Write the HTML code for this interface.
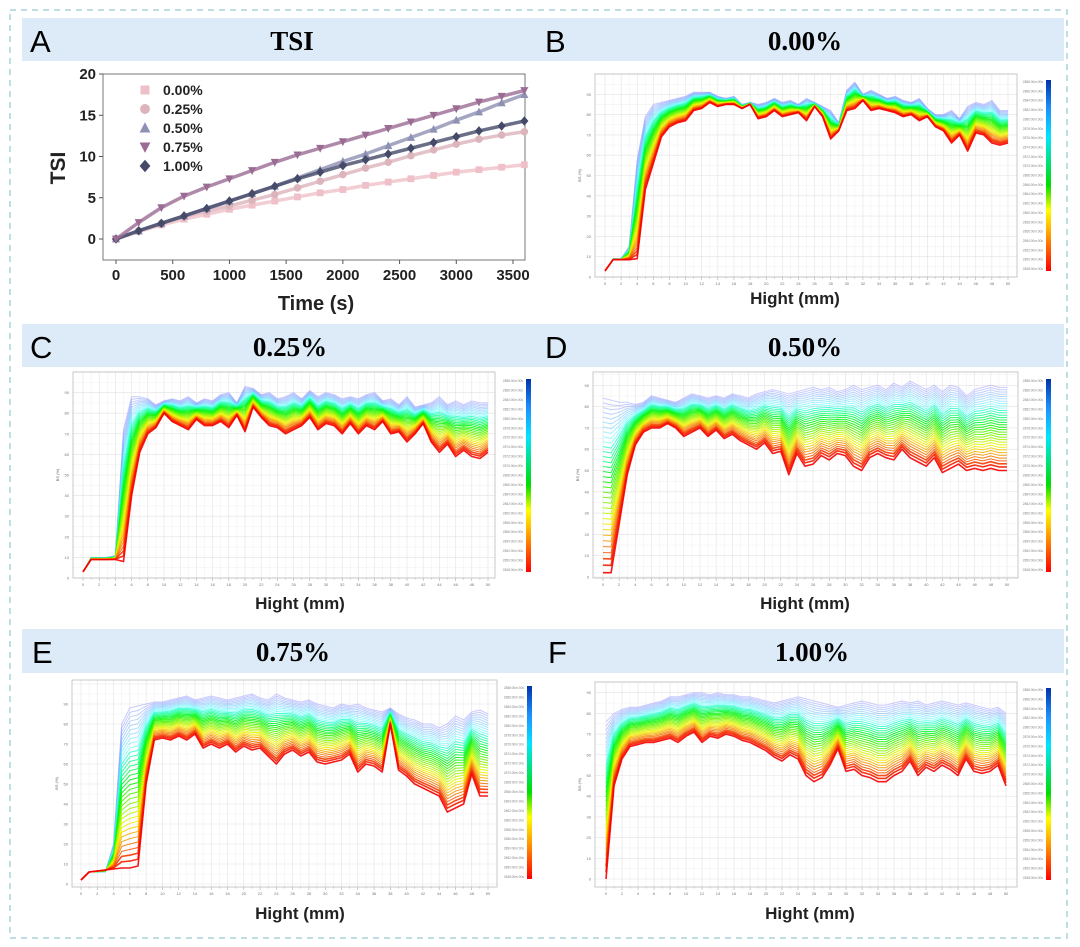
<!DOCTYPE html>
<html><head><meta charset="utf-8"><style>
html,body{margin:0;padding:0;background:#fff;}
svg{display:block;}
text{font-family:"Liberation Sans",sans-serif;}
</style></head><body>
<svg id="fig" width="1080" height="947" viewBox="0 0 1080 947" xmlns="http://www.w3.org/2000/svg">
<rect x="10" y="10" width="1057" height="928" fill="none" stroke="#a9d3dc" stroke-width="1.5" stroke-dasharray="6,5"/>
<g>
<rect x="22" y="18" width="1042" height="43" fill="#dcebf7"/>
<text x="30" y="52" font-size="31">A</text>
<text x="292" y="50" font-size="27" font-weight="bold" text-anchor="middle" style="font-family:'Liberation Serif',serif">TSI</text>
<text x="545" y="52" font-size="31">B</text>
<text x="805" y="50" font-size="27" font-weight="bold" text-anchor="middle" style="font-family:'Liberation Serif',serif">0.00%</text>
</g>
<g>
<rect x="22" y="324" width="1042" height="43" fill="#dcebf7"/>
<text x="30" y="358" font-size="31">C</text>
<text x="290" y="356" font-size="27" font-weight="bold" text-anchor="middle" style="font-family:'Liberation Serif',serif">0.25%</text>
<text x="545" y="358" font-size="31">D</text>
<text x="805" y="356" font-size="27" font-weight="bold" text-anchor="middle" style="font-family:'Liberation Serif',serif">0.50%</text>
</g>
<g>
<rect x="22" y="629" width="1042" height="44" fill="#dcebf7"/>
<text x="32" y="663" font-size="31">E</text>
<text x="293" y="661" font-size="27" font-weight="bold" text-anchor="middle" style="font-family:'Liberation Serif',serif">0.75%</text>
<text x="548" y="663" font-size="31">F</text>
<text x="812" y="661" font-size="27" font-weight="bold" text-anchor="middle" style="font-family:'Liberation Serif',serif">1.00%</text>
</g>
<g id="chartA"></g>
<g id="profiles"></g>
</svg>
<script>
// ---------- Panel A data ----------
const timeS = [0,200,400,600,800,1000,1200,1400,1600,1800,2000,2200,2400,2600,2800,3000,3200,3400,3600];
const tsi000 = [0,0.9,1.7,2.4,3.0,3.6,4.1,4.6,5.1,5.6,6.0,6.5,6.9,7.3,7.7,8.1,8.4,8.7,9.0];
const tsi025 = [0,1,1.9,2.7,3.4,4.0,4.7,5.4,6.2,7.0,7.8,8.6,9.3,10.1,10.8,11.5,12.1,12.6,13.0];
const tsi050 = [0,1,1.9,2.8,3.7,4.6,5.5,6.4,7.4,8.4,9.4,10.3,11.3,12.3,13.3,14.4,15.4,16.5,17.5];
const tsi075 = [0,2,3.8,5.2,6.3,7.3,8.3,9.3,10.2,11.0,11.8,12.6,13.4,14.2,15.0,15.8,16.6,17.3,18.0];
const tsi100 = [0,1,1.9,2.8,3.7,4.6,5.5,6.4,7.3,8.1,8.9,9.6,10.3,11.0,11.7,12.4,13.1,13.7,14.3];
const seriesNames = ["0.00%","0.25%","0.50%","0.75%","1.00%"];
const xTicksA = [0,500,1000,1500,2000,2500,3000,3500];
const yTicksA = [0,5,10,15,20];

// ---------- Profile data (BS %, 1 mm steps) ----------
const redB = [3,8.5,8.5,8.5,9,43,56,69,74,76,77,82,83,86,84,85,85,83,85,78,79,82,79,80,81,77,84,79,68,72,82,83,87,82,83,82,81,79,80,77,79,74,72,66,70,62,71,70,66,65,66];
const blueB = [3,9,9,15,58,79,85,86,87,88,89,91,91,91,89,88,89,85,86,85,86,88,86,87,85,88,86,84,82,76,92,96,90,92,90,88,89,87,86,88,83,80,80,82,78,84,86,85,87,82,82];
const redC = [3,9,9,9,9,8,40,61,70,73,80,76,74,72,77,74,74,76,73,79,71,83,78,74,73,70,72,74,78,72,75,74,70,75,70,74,72,76,70,71,66,70,75,66,61,65,59,62,59,58,61];
const blueC = [3,10,10,10,11,72,88,88,87,84,86,87,86,88,85,87,86,89,90,85,93,92,89,90,87,88,90,87,91,88,90,89,87,88,87,89,90,86,87,84,88,83,84,85,88,84,86,84,86,85,85];
const redD = [2,2,25,48,62,68,70,70,72,70,66,68,70,66,69,65,67,64,62,60,63,58,59,48,58,52,53,57,55,58,57,52,50,56,58,56,55,60,56,54,52,56,49,51,53,50,51,50,51,50,50];
const blueD = [84,83,82,82,81,82,85,84,83,82,84,86,85,84,85,84,86,85,84,86,87,88,87,86,87,88,89,88,89,87,88,90,88,89,90,88,91,89,92,90,88,90,87,90,89,85,88,89,90,89,89];
const redE = [2,6,6.5,7,7.5,8,8,9,50,72,73,72,74,72,75,68,70,68,70,66,69,67,68,64,60,65,67,64,66,61,60,61,62,65,56,60,59,56,80,57,54,50,48,46,44,36,38,40,55,44,44];
const blueE = [2,6,6,6,20,80,88,89,90,91,91,92,93,94,92,93,94,93,92,93,94,95,93,92,95,93,92,91,92,90,89,88,90,89,90,88,87,86,88,85,83,82,80,80,78,80,84,82,86,87,85];
const redF = [0,45,58,64,65,66,66,67,68,66,69,71,66,69,68,70,69,67,66,64,62,59,57,60,58,50,47,49,55,63,52,53,50,49,47,47,50,52,57,50,54,52,55,53,50,58,52,51,52,55,45];
const blueF = [76,80,82,83,83,84,85,86,88,88,89,90,90,89,90,89,89,88,88,87,86,85,86,87,88,87,86,85,84,83,84,85,86,85,84,84,85,86,85,86,84,85,86,85,84,85,84,83,82,83,80];
const bsTicks = [0,10,20,30,40,50,60,70,80,90];
const hTickLabels = ["0","2","4","6","8","10","12","14","16","18","20","22","24","26","28","30","32","34","36","38","40","42","44","46","48","50"];
const timeLabels = ["2888:00m:00s","2886:00m:00s","2884:00m:00s","2882:00m:00s","2880:00m:00s","2878:00m:00s","2876:00m:00s","2874:00m:00s","2872:00m:00s","2870:00m:00s","2868:00m:00s","2866:00m:00s","2864:00m:00s","2862:00m:00s","2860:00m:00s","2858:00m:00s","2856:00m:00s","2854:00m:00s","2852:00m:00s","2850:00m:00s","2848:00m:00s"];

const NS = "http://www.w3.org/2000/svg";
function mk(tag, parent, attrs){ const e=document.createElementNS(NS,tag); for(const k in attrs) e.setAttribute(k,attrs[k]); parent.appendChild(e); return e; }

// ---------- Panel A ----------
(function(){
  const g = document.getElementById('chartA');
  const X = t => 116 + t*(513-116)/3500;
  const Y = v => 239 - v*(239-74)/20;
  const frame = mk('rect', g, {x:103,y:74,width:422,height:186,fill:'none',stroke:'#777','stroke-width':1});
  
  
  xTicksA.forEach(t=>{
    mk('line', g, {x1:X(t),x2:X(t),y1:260,y2:264,stroke:'#555'});
    const tx = mk('text', g, {x:X(t),y:280,'font-size':15,'font-weight':'bold','text-anchor':'middle',fill:'#222'});
    tx.textContent = t;
    
    
  });
  yTicksA.forEach(v=>{
    mk('line', g, {x1:99,x2:103,y1:Y(v),y2:Y(v),stroke:'#555'});
    const tx = mk('text', g, {x:96,y:Y(v)+5,'font-size':15,'font-weight':'bold','text-anchor':'end',fill:'#222'});
    tx.textContent = v;
    
    
  });
  const xl = mk('text', g, {x:316,y:310,'font-size':20,'font-weight':'bold','text-anchor':'middle',fill:'#222'});
  xl.textContent = 'Time (s)';
  
  
  const yl = mk('text', g, {x:0,y:0,'font-size':21,'font-weight':'bold','text-anchor':'middle',fill:'#222',transform:'translate(65,168) rotate(-90)'});
  yl.textContent = 'TSI';
  
  

  const all = [tsi000,tsi025,tsi050,tsi075,tsi100];
  const colors = ['#efc0c8','#dcb4bb','#8e91b3','#9b6c93','#454a68'];
  const shapes = ['square','circle','up','down','diamond'];
  function marker(parent, shape, x, y, s, c){
    let e;
    if(shape==='square') e = mk('rect', parent, {x:x-s,y:y-s,width:2*s,height:2*s,fill:c});
    else if(shape==='circle') e = mk('circle', parent, {cx:x,cy:y,r:s*1.1,fill:c});
    else if(shape==='up') e = mk('polygon', parent, {points:`${x},${y-s*1.3} ${x-s*1.2},${y+s} ${x+s*1.2},${y+s}`,fill:c});
    else if(shape==='down') e = mk('polygon', parent, {points:`${x},${y+s*1.3} ${x-s*1.2},${y-s} ${x+s*1.2},${y-s}`,fill:c});
    else e = mk('polygon', parent, {points:`${x},${y-s*1.4} ${x+s*1.2},${y} ${x},${y+s*1.4} ${x-s*1.2},${y}`,fill:c});
    return e;
  }
  [0,1,2,4,3].forEach(si=>{
    const sg = mk('g', g, {});
    
    
    const d = all[si];
    mk('polyline', sg, {points: timeS.map((t,i)=>X(t)+','+Y(d[i])).join(' '), fill:'none', stroke:colors[si], 'stroke-width':3.5, 'stroke-linejoin':'round','opacity':0.8});
    timeS.forEach((t,i)=>{ marker(sg, shapes[si], X(t), Y(d[i]), 3.4, colors[si]); });
  });
  seriesNames.forEach((n,i)=>{
    const y = 90 + i*19;
    const lg = mk('g', g, {});
    
    
    marker(lg, shapes[i], 145, y, 4.5, colors[i]);
    const tx = mk('text', lg, {x:163,y:y+5,'font-size':14,'font-weight':'bold',fill:'#222'});
    tx.textContent = n;
  });
})();

// ---------- Profile panels ----------
const panels = [
  {id:'b', red:redB, blue:blueB, box:[595,74,1017,277], dx:[605,1008], v0:277, v100:74, bar:[1046,80,271], xl:[795,304]},
  {id:'c', red:redC, blue:blueC, box:[73,372,495,578], dx:[83,488], v0:578, v100:372, bar:[526,379,572], xl:[300,609]},
  {id:'d', red:redD, blue:blueD, box:[593,372,1018,578], dx:[603,1007], v0:577, v100:364, bar:[1046,379,572], xl:[805,609]},
  {id:'e', red:redE, blue:blueE, box:[72,680,497,887], dx:[81,488], v0:884, v100:684, bar:[527,686,879], xl:[300,919]},
  {id:'f', red:redF, blue:blueF, box:[595,682,1017,887], dx:[606,1006], v0:879, v100:672, bar:[1046,688,880], xl:[810,919]}
];
const root = document.getElementById('profiles');
let gid = 0;
panels.forEach(p=>{
  const g = mk('g', root, {});
  
  
  const [bx0,by0,bx1,by1] = p.box;
  const n = p.red.length;
  const X = i => p.dx[0] + i*(p.dx[1]-p.dx[0])/(n-1);
  const Y = v => p.v0 - v*(p.v0-p.v100)/100;
  for(let k=0;k<=50;k++){
    const x = p.dx[0] + k*(p.dx[1]-p.dx[0])/50;
    mk('line', g, {x1:x,x2:x,y1:by0,y2:by1,stroke: k%2===0?'#e2e2e2':'#f2f2f2','stroke-width':0.6});
    mk('line', g, {x1:x,x2:x,y1:by1,y2:by1+(k%2===0?3:1.5),stroke:'#999','stroke-width':0.5});
  }
  for(let v=0; v<=100; v+=5){
    const y = Y(v); if(y<by0||y>by1) continue;
    mk('line', g, {x1:bx0,x2:bx1,y1:y,y2:y,stroke: v%10===0?'#e2e2e2':'#f2f2f2','stroke-width':0.6});
  }
  mk('rect', g, {x:bx0,y:by0,width:bx1-bx0,height:by1-by0,fill:'none',stroke:'#bbb','stroke-width':0.8});
  hTickLabels.forEach((l,k)=>{
    const t = mk('text', g, {x:p.dx[0]+k*2*(p.dx[1]-p.dx[0])/50,y:by1+8,'font-size':4,'text-anchor':'middle',fill:'#777'});
    t.textContent = l;
  });
  bsTicks.forEach(v=>{
    const y = Y(v); if(y<by0-2||y>by1) return;
    const t = mk('text', g, {x:bx0-4,y:y+1.5,'font-size':4,'text-anchor':'end',fill:'#777'});
    t.textContent = v;
  });
  const yt = mk('text', g, {x:0,y:0,'font-size':4,'text-anchor':'middle',fill:'#666',transform:`translate(${bx0-14},${(by0+by1)/2}) rotate(-90)`});
  yt.textContent = 'BS (%)';
  
  
  const N = 34;
  const cg = mk('g', g, {});
  
  
  for(let j=N-1;j>=0;j--){
    const t = j/(N-1);
    const hue = 240*t;
    const light = t>0.55 ? 50 + (t-0.55)*70 : 48;
    const pts = p.red.map((r,i)=>{ const v = r + (p.blue[i]-r)*Math.pow(t,0.9); return X(i).toFixed(1)+','+Y(v).toFixed(1); }).join(' ');
    mk('polyline', cg, {points:pts,fill:'none',stroke:`hsl(${hue},100%,${light}%)`,'stroke-width': (j<3?1.6:1.0),'stroke-opacity': t>0.7?0.55:0.9,'stroke-linejoin':'round'});
  }
  const gradId = 'cb'+(gid++);
  const defs = mk('defs', g, {});
  const lg = mk('linearGradient', defs, {id:gradId,x1:0,y1:1,x2:0,y2:0});
  [['0','#ff0000'],['0.2','#ffa500'],['0.32','#ffff00'],['0.45','#00dd00'],['0.7','#00e5ff'],['0.85','#1e90ff'],['1','#0033aa']].forEach(([o,c])=>mk('stop', lg, {offset:o,'stop-color':c}));
  const [cx,cy0,cy1] = p.bar;
  const bar = mk('rect', g, {x:cx,y:cy0,width:5,height:cy1-cy0,fill:`url(#${gradId})`});
  
  
  timeLabels.forEach((l,k)=>{
    const t = mk('text', g, {x:cx-3,y:cy0+3+k*(cy1-cy0-4)/(timeLabels.length-1),'font-size':3.2,'text-anchor':'end',fill:'#888'});
    t.textContent = l;
  });
  const xl = mk('text', g, {x:p.xl[0],y:p.xl[1],'font-size':17,'font-weight':'bold','text-anchor':'middle',fill:'#222'});
  xl.textContent = 'Hight  (mm)';
  
  
});
</script>
</body></html>
